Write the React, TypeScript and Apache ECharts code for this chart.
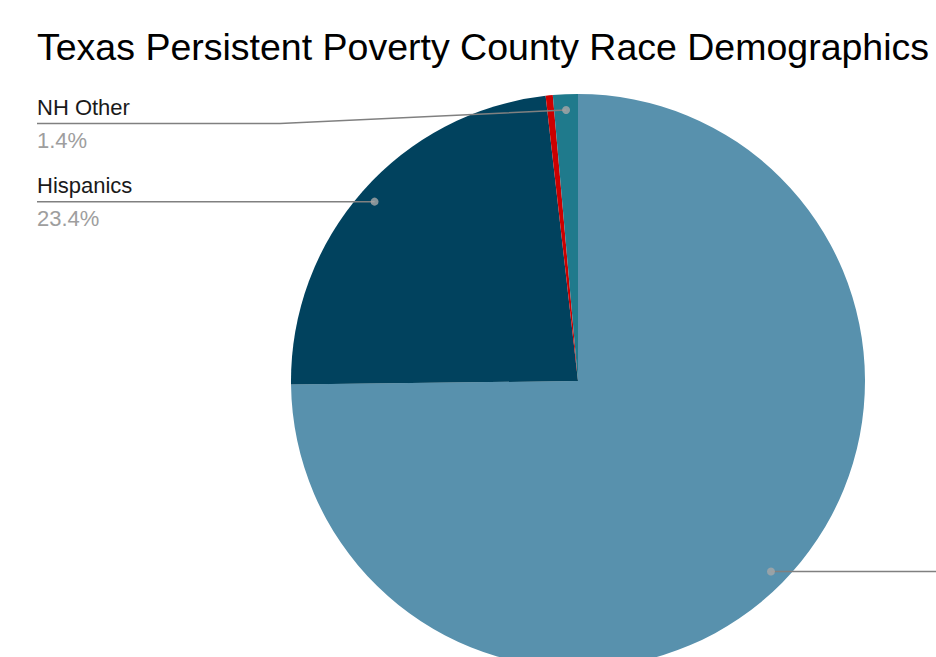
import React, { useEffect, useRef } from "react";
import * as echarts from "echarts";

const titleText = "Texas Persistent Poverty County Race Demographics";
const categories = ["NH White", "Hispanics", "NH Black", "NH Other"];
const values = [74.8, 23.4, 0.4, 1.4];
const colors = ["#5891ad", "#01425e", "#cc0000", "#1f7a8c"];
const showLabel = [true, true, false, true];
// label text visible inside the frame (the NH White label lies off to the right)
const showText = [false, true, false, true];

const CX = 578;
const CY = 381;
const R = 287;
const ANCHOR = 0.945;

export default function App() {
  const ref = useRef<HTMLDivElement>(null);
  useEffect(() => {
    if (!ref.current) return;
    const chart = echarts.init(ref.current, null, { renderer: "svg" });
    const total = values.reduce((a, b) => a + b, 0);
    let cum = 0;
    const dots: number[][] = [];
    values.forEach((v, i) => {
      const mid = cum + v / 2;
      cum += v;
      if (showLabel[i]) dots.push([ANCHOR, (mid / total) * 100]);
    });
    const pieBase = {
      type: "pie",
      center: [CX, CY],
      radius: R,
      startAngle: 90,
      clockwise: true,
      percentPrecision: 1,
      avoidLabelOverlap: false,
      emphasis: { disabled: true },
    };
    chart.setOption({
      animation: false,
      backgroundColor: "#ffffff",
      title: {
        text: titleText,
        left: 37,
        top: 28,
        padding: 0,
        textStyle: {
          fontFamily: "Liberation Sans",
          fontSize: 37.5,
          fontWeight: "normal",
          color: "#000000",
        },
      },
      polar: { center: [CX, CY], radius: R },
      angleAxis: { type: "value", min: 0, max: 100, startAngle: 90, clockwise: true, show: false },
      radiusAxis: { type: "value", min: 0, max: 1, show: false },
      series: [
        {
          ...pieBase,
          z: 2,
          itemStyle: { borderWidth: 0 },
          label: { show: false },
          labelLine: { show: false },
          data: categories.map((name, i) => ({
            name,
            value: values[i],
            itemStyle: { color: colors[i] },
          })),
        },
        {
          ...pieBase,
          z: 4,
          silent: true,
          itemStyle: { color: "rgba(0,0,0,0)", borderWidth: 0 },
          data: categories.map((name, i) => ({
            name,
            value: values[i],
            label: { show: showLabel[i] },
            labelLine: { show: showLabel[i] },
          })),
          label: {
            position: "outside",
            formatter: (p: any) =>
              showText[p.dataIndex] ? `{n|${p.name}}\n{p|${p.percent}%}` : " ",
            rich: {
              n: { fontFamily: "Liberation Sans", fontSize: 22, color: "#1a1a1a", lineHeight: 33 },
              p: { fontFamily: "Liberation Sans", fontSize: 22, color: "#9e9e9e", lineHeight: 33 },
            },
          },
          labelLine: {
            show: true,
            smooth: false,
            lineStyle: { color: "#808080", width: 1.5 },
          },
          labelLayout: (params: any) => {
            const pts = params.labelLinePoints;
            if (!pts) return {};
            const p0 = pts[0];
            const ax = CX + (p0[0] - CX) * ANCHOR;
            const ay = CY + (p0[1] - CY) * ANCHOR;
            const left = ax < CX;
            const lineY = Math.max(ay, 123.5);
            const endX = left ? 37 : 1000;
            const bendX = left ? Math.min(280, ax) : ax;
            return {
              x: left ? 37 : 1000,
              y: lineY,
              align: "left",
              verticalAlign: "middle",
              labelLinePoints: [
                [ax, ay],
                [bendX, lineY],
                [endX, lineY],
              ],
            };
          },
        },
        {
          type: "scatter",
          coordinateSystem: "polar",
          data: dots,
          symbolSize: 8,
          z: 10,
          silent: true,
          itemStyle: { color: "#a8a8a8" },
        },
      ],
    });
    return () => chart.dispose();
  }, []);
  return (
    <div style={{ position: "fixed", left: 0, top: 0, width: 936, height: 657, overflow: "hidden", background: "#fff" }}>
      <div ref={ref} style={{ width: 1150, height: 700 }} />
    </div>
  );
}
